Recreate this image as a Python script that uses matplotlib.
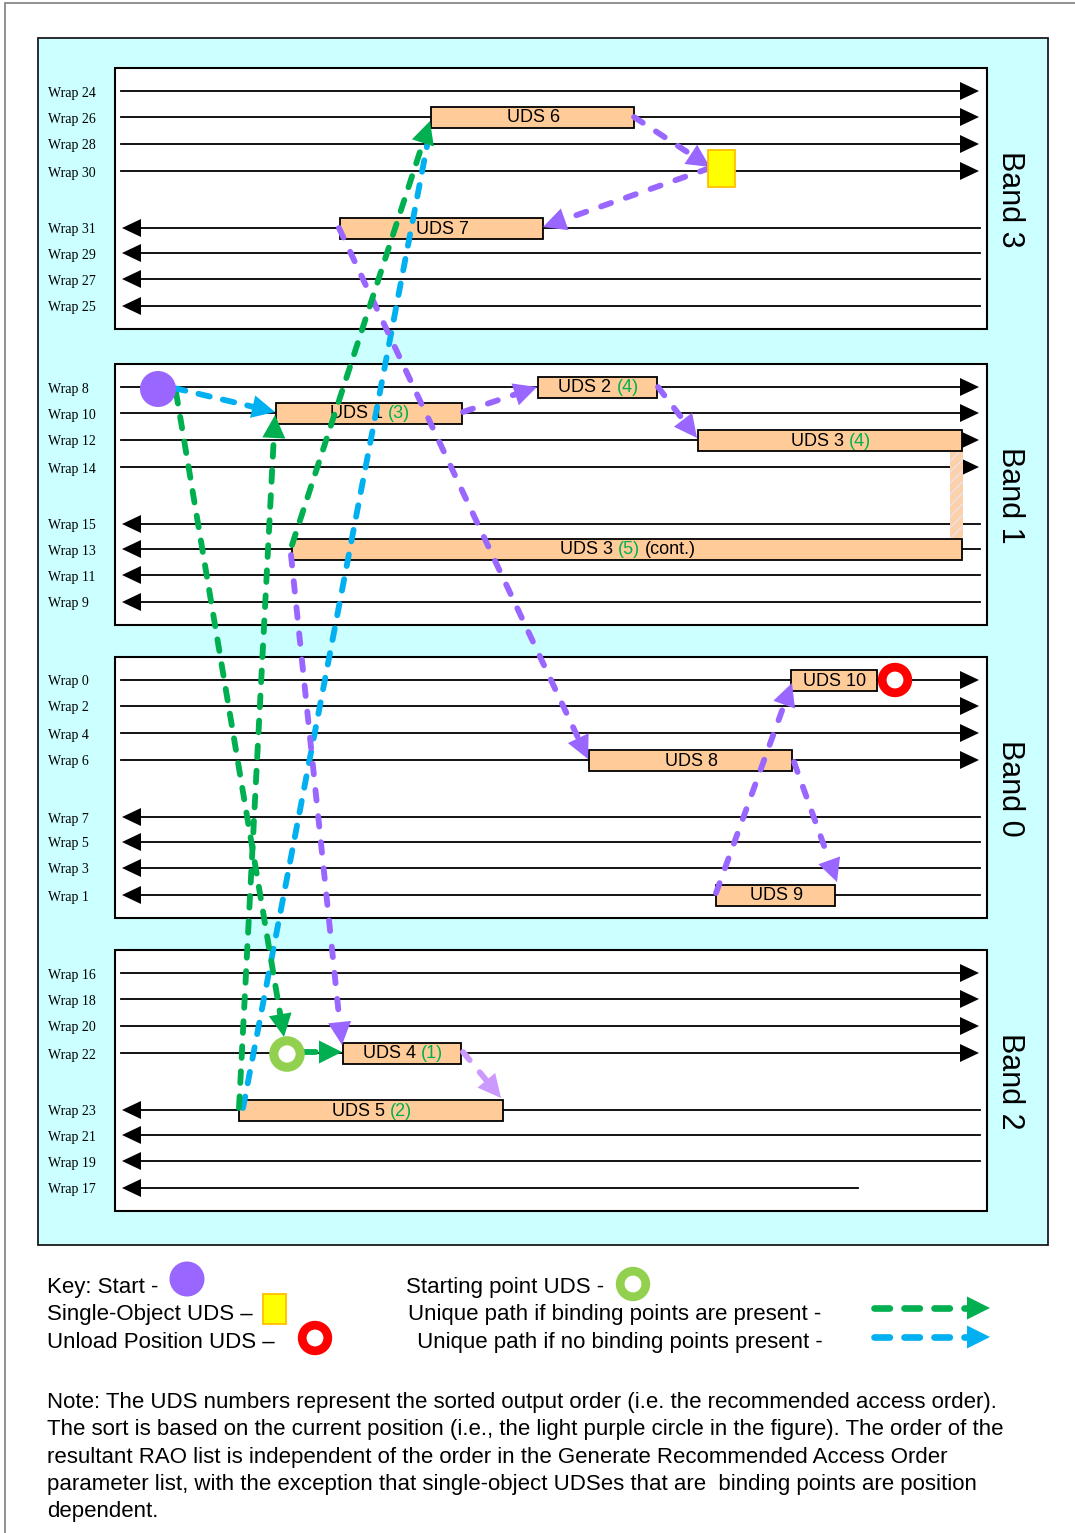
import numpy as np
import matplotlib
matplotlib.use('Agg')
import matplotlib.pyplot as plt
from matplotlib.patches import Rectangle, Circle, Polygon
from matplotlib.offsetbox import TextArea, HPacker, AnnotationBbox

# bands (top to bottom) and wraps inside each band
band_names = ['Band 3', 'Band 1', 'Band 0', 'Band 2']
band_tops = [68, 364, 657, 950]
band_wraps = [
    [24, 26, 28, 30, 31, 29, 27, 25],
    [8, 10, 12, 14, 15, 13, 11, 9],
    [0, 2, 4, 6, 7, 5, 3, 1],
    [16, 18, 20, 22, 23, 21, 19, 17],
]
wrap_offsets = [23, 49, 76, 103, 160, 185, 211, 238]
short_wraps = {17: 858}

# UDS boxes: wrap, start / end position along the tape
uds_names = ['UDS 6', 'UDS 7', 'UDS 1', 'UDS 2', 'UDS 3', 'UDS 3', 'UDS 10', 'UDS 8', 'UDS 9', 'UDS 4', 'UDS 5']
uds_rank = ['', '', '(3)', '(4)', '(4)', '(5)', '', '', '', '(1)', '(2)']
uds_extra = ['', '', '', '', '', '(cont.)', '', '', '', '', '']
uds_wrap = [26, 31, 10, 8, 12, 13, 0, 6, 1, 22, 23]
uds_start = [431, 340, 276, 538, 698, 292, 791, 589, 716, 343, 239]
uds_end = [634, 543, 462, 657, 962, 962, 877, 792, 835, 461, 503]

# special points
start_pos = (158, 8)          # (position, wrap)
single_obj = (708, 735, 30)
unload_pos = (895, 0)
start_uds = (287, 22)

# paths (x0, y0, x1, y1)
purple_paths = [
    (463, 412, 537, 387), (658, 387, 697, 438), (634, 117, 710, 167),
    (710, 168, 543, 227), (339, 228, 588, 759), (291, 555, 342, 1045),
    (794, 762, 837, 882), (716, 893, 792, 683),
]
light_purple_paths = [(463, 1052, 501, 1098)]
green_paths = [(176, 392, 284, 1037), (304, 1052, 342, 1052),
               (239, 1108, 275, 415), (292, 545, 430, 121)]
blue_paths = [(174, 388, 275, 412)]
blue_open_paths = [(243, 1108, 431, 125)]

note_lines = [
    'Note: The UDS numbers represent the sorted output order (i.e. the recommended access order).',
    'The sort is based on the current position (i.e., the light purple circle in the figure). The order of the',
    'resultant RAO list is independent of the order in the Generate Recommended Access Order',
    'parameter list, with the exception that single-object UDSes that are  binding points are position',
    'dependent.',
]

PURPLE = '#9966FF'
LPURPLE = '#CC99FF'
GREEN = '#00B050'
BLUE = '#00B0F0'
LGREEN = '#92D050'
ORANGE = '#FFCC99'

plt.rcParams['font.family'] = ['Liberation Sans', 'DejaVu Sans']

fig = plt.figure(figsize=(10.75, 15.33), dpi=100)
ax = fig.add_axes([0, 0, 1, 1])
ax.set_xlim(0, 1075)
ax.set_ylim(1533, 0)
ax.axis('off')

wrap_y = {}
for top, wraps in zip(band_tops, band_wraps):
    for off, w in zip(wrap_offsets, wraps):
        wrap_y[w] = top + off


def head(p0, p1, color, L=23, W=11.5, z=7):
    p0 = np.array(p0, float)
    p1 = np.array(p1, float)
    u = (p1 - p0) / np.hypot(*(p1 - p0))
    n = np.array([-u[1], u[0]])
    base = p1 - L * u
    ax.add_patch(Polygon([p1, base + W * n, base - W * n], closed=True,
                         fc=color, ec='none', zorder=z))
    return base


def dashed(x0, y0, x1, y1, color, arrow=True, dash=(1.8, 2.7), lw=4.2, z=6):
    end = head((x0, y0), (x1, y1), color) if arrow else (x1, y1)
    ax.plot([x0, end[0]], [y0, end[1]], color=color, lw=lw, ls=(0, dash),
            dash_capstyle='round', zorder=z)


# outer frame and cyan panel
ax.add_patch(Rectangle((5, 3), 1100, 1600, fc='white', ec='#7f7f7f', lw=1.2, zorder=0))
ax.add_patch(Rectangle((38, 38), 1010, 1207, fc='#CCFFFF', ec='#1a1a1a', lw=1.3, zorder=1))

# bands, wraps, labels
for name, top, wraps in zip(band_names, band_tops, band_wraps):
    ax.add_patch(Rectangle((115, top), 872, 261, fc='white', ec='black', lw=1.5, zorder=2))
    ax.text(1010, top + 131, name, rotation=270, ha='center', va='center', fontsize=22, zorder=3)
    for i, w in enumerate(wraps):
        y = wrap_y[w]
        ax.text(48, y + 2, f'Wrap {w}', family=['Liberation Serif'], fontsize=10,
                ha='left', va='center', zorder=3)
        if i < 4:
            ax.plot([121, 962], [y, y], color='black', lw=1.3, zorder=3)
            ax.add_patch(Polygon([(979, y), (960, y - 9), (960, y + 9)], fc='black', ec='none', zorder=3))
        else:
            ax.plot([138, short_wraps.get(w, 980)], [y, y], color='black', lw=1.3, zorder=3)
            ax.add_patch(Polygon([(122, y), (141, y - 9), (141, y + 9)], fc='black', ec='none', zorder=3))

# hatched link between UDS 3 parts
ax.add_patch(Rectangle((950, wrap_y[12] + 11), 13, wrap_y[13] - wrap_y[12] - 22,
                       fc='#FCD0A8', ec='#EDE3EE', hatch='///', lw=0, zorder=3))

# UDS boxes
for name, rank, extra, w, x0, x1 in zip(uds_names, uds_rank, uds_extra, uds_wrap, uds_start, uds_end):
    y = wrap_y[w]
    ax.add_patch(Rectangle((x0, y - 10.5), x1 - x0, 21, fc=ORANGE, ec='black', lw=1.3, zorder=4))
    parts = [TextArea(name, textprops=dict(fontsize=13, color='black'))]
    if rank:
        parts.append(TextArea(rank, textprops=dict(fontsize=13, color=GREEN)))
    if extra:
        parts.append(TextArea(extra, textprops=dict(fontsize=13, color='black')))
    pack = HPacker(children=parts, pad=0, sep=3.6, align='baseline')
    ab = AnnotationBbox(pack, ((x0 + x1) / 2 + 1, y + 1), frameon=False,
                        box_alignment=(0.5, 0.5), zorder=5)
    ax.add_artist(ab)

# paths
for p in purple_paths:
    dashed(*p, PURPLE)
for p in light_purple_paths:
    dashed(*p, LPURPLE)
for p in green_paths:
    dashed(*p, GREEN, dash=(2.0, 2.3))
for p in blue_paths:
    dashed(*p, BLUE, dash=(2.0, 2.3))
for p in blue_open_paths:
    dashed(*p, BLUE, arrow=False, dash=(2.0, 2.3), z=5.5)

# markers
ax.add_patch(Circle((start_pos[0], wrap_y[start_pos[1]] + 2), 18, fc=PURPLE, ec='none', zorder=8))
ax.add_patch(Rectangle((single_obj[0], wrap_y[single_obj[2]] - 21), single_obj[1] - single_obj[0], 37,
                       fc='#FFFF00', ec='#FFC000', lw=1.3, zorder=8))
ax.add_patch(Circle((unload_pos[0], wrap_y[unload_pos[1]]), 12.8, fc='white', ec='#FF0000', lw=6.3, zorder=8))
ax.add_patch(Circle((start_uds[0], wrap_y[start_uds[1]] + 1), 13.2, fc='white', ec=LGREEN, lw=6.6, zorder=8))

# key
fs = 16
ax.text(47, 1293, 'Key: Start -', fontsize=fs, va='baseline')
ax.add_patch(Circle((187, 1279), 17.5, fc=PURPLE, ec='none'))
ax.text(47, 1320, 'Single-Object UDS \u2013', fontsize=fs, va='baseline')
ax.add_patch(Rectangle((263, 1294), 23, 30, fc='#FFFF00', ec='#FFC000', lw=1.3))
ax.text(47, 1348, 'Unload Position UDS \u2013', fontsize=fs, va='baseline')
ax.add_patch(Circle((315, 1338), 12.8, fc='white', ec='#FF0000', lw=6.3))

ax.text(406, 1293, 'Starting point UDS -', fontsize=fs, va='baseline')
ax.add_patch(Circle((633, 1284), 12.8, fc='white', ec=LGREEN, lw=6.3))
ax.text(408, 1320, 'Unique path if binding points are present -', fontsize=fs, va='baseline')
ax.text(411, 1348, ' Unique path if no binding points present -', fontsize=fs, va='baseline')
dashed(874, 1308, 990, 1308, GREEN, dash=(2.3, 2.2), lw=4.8)
dashed(874, 1337, 990, 1337, BLUE, dash=(2.3, 2.2), lw=4.8)

for i, line in enumerate(note_lines):
    ax.text(47, 1408 + i * 27.3, line, fontsize=fs, va='baseline')

fig.savefig('out.png', dpi=100)
